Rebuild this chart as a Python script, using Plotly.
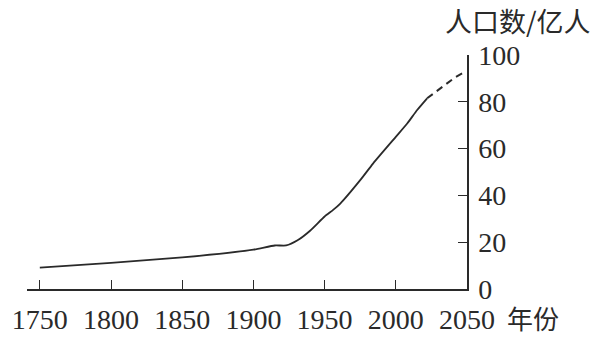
import plotly.graph_objects as go

# Data (population, 亿人)
years_solid = [1750, 1800, 1850, 1900, 1915, 1923, 1931, 1940, 1950, 1956, 1961, 1975, 1984, 2000, 2008, 2015, 2022]
pop_solid = [9.1, 11.2, 13.5, 16.8, 18.6, 18.6, 20.8, 25.0, 31.0, 33.8, 36.5, 46.5, 53.6, 65.0, 70.7, 76.5, 81.5]
years_dash = [2022, 2028, 2035, 2042, 2049]
pop_dash = [81.5, 84.3, 87.6, 90.6, 93.0]

x_ticks = [1750, 1800, 1850, 1900, 1950, 2000, 2050]
y_ticks = [0, 20, 40, 60, 80, 100]

ink = "#2a2a2a"
serif = "Liberation Serif"
cjk = "Noto Sans CJK SC"

fig = go.Figure()
fig.add_trace(go.Scatter(x=years_solid, y=pop_solid, mode="lines",
                         line=dict(color=ink, width=1.8, shape="spline", smoothing=0.5),
                         showlegend=False, hoverinfo="skip"))
fig.add_trace(go.Scatter(x=years_dash, y=pop_dash, mode="lines",
                         line=dict(color=ink, width=2, dash="7px,5px"),
                         showlegend=False, hoverinfo="skip"))

fig.update_layout(
    width=599, height=350,
    margin=dict(l=25, r=132, t=55, b=61),
    paper_bgcolor="white", plot_bgcolor="white",
    font=dict(family=serif, size=28, color=ink),
    xaxis=dict(range=[1741, 2050], tickvals=x_ticks, ticktext=[str(v) for v in x_ticks],
               showgrid=False, zeroline=False, showline=True, linecolor=ink, linewidth=1.5,
               ticks="inside", ticklen=9, tickwidth=1.3, tickcolor=ink,
               ticklabelstandoff=5,
               tickfont=dict(family=serif, size=28, color=ink)),
    yaxis=dict(range=[0, 100], tickvals=y_ticks, side="right",
               showgrid=False, zeroline=False, showline=True, linecolor=ink, linewidth=1.5,
               ticks="inside", ticklen=9, tickwidth=1.3, tickcolor=ink,
               ticklabelstandoff=4,
               tickfont=dict(family=serif, size=28, color=ink)),
    annotations=[
        dict(text="人口数/亿人", xref="paper", yref="paper", x=1, y=1,
             xanchor="right", yanchor="middle", xshift=126, yshift=35,
             showarrow=False, font=dict(family=cjk, size=27, color=ink)),
        dict(text="年份", xref="paper", yref="paper", x=1, y=0,
             xanchor="left", yanchor="middle", xshift=38, yshift=-28,
             showarrow=False, font=dict(family=cjk, size=26, color=ink)),
    ],
)

fig.write_html("out.html")
